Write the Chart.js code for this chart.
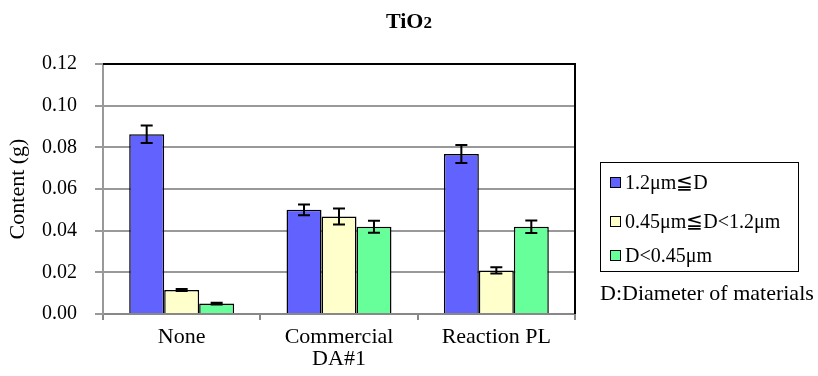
<!DOCTYPE html>
<html>
<head>
<meta charset="utf-8">
<script src="https://cdn.jsdelivr.net/npm/chart.js@4"></script>
<style>
  body { margin: 0; background: #fff; }
  #wrap { position: relative; width: 818px; height: 376px; font-family: "Liberation Serif", "DejaVu Serif", serif; overflow: hidden; }
  #title { position: absolute; left: 0; width: 818px; top: 7px; line-height: 28px; text-align: center; font-weight: bold; font-size: 22px; color: #000; }
  #title span { font-size: 17px; }
  #legendBox { position: absolute; left: 600px; top: 162px; width: 199px; height: 110px; border: 1.5px solid #000; box-sizing: border-box; }
  .item { position: absolute; left: 9px; font-size: 20px; line-height: 20px; color: #000; white-space: nowrap; }
  .sw { display: inline-block; width: 9px; height: 9px; border: 1px solid #000; margin-right: 4px; vertical-align: 1px; }
  #note { position: absolute; left: 600px; top: 281px; font-size: 22px; line-height: 24px; color: #000; white-space: nowrap; }
</style>
</head>
<body>
<div id="wrap">
  <canvas id="myChart" width="818" height="376"></canvas>
  <div id="title">TiO<span>2</span></div>
  <div id="legendBox"></div>
  <div id="note">D:Diameter of materials</div>
</div>
<script>
//categories and series
var categories = ['None', ['Commercial', 'DA#1'], 'Reaction PL'];
var seriesNames = ['1.2\u03bcm\u2266D', '0.45\u03bcm\u2266D<1.2\u03bcm', 'D<0.45\u03bcm'];
var seriesColors = ['#6262FF', '#FFFFCC', '#66FF99'];

//values (g)
var large = [0.0863, 0.0500, 0.0768];
var middle = [0.0115, 0.0468, 0.0209];
var small = [0.0050, 0.0419, 0.0419];

//error bar half widths
var largeErr = [0.0042, 0.0026, 0.0043];
var middleErr = [0.0005, 0.0038, 0.0015];
var smallErr = [0.0004, 0.0029, 0.0030];

var values = [large, middle, small];
var errors = [largeErr, middleErr, smallErr];

//build the html legend from the series arrays
var legendBox = document.getElementById('legendBox');
var legendTops = [9, 48, 82];
for (var i = 0; i < seriesNames.length; i++) {
  var div = document.createElement('div');
  div.className = 'item';
  div.style.top = legendTops[i] + 'px';
  div.innerHTML = "<span class='sw' style='background:" + seriesColors[i] + "'></span>";
  div.appendChild(document.createTextNode(seriesNames[i]));
  legendBox.appendChild(div);
}

//draws error bars and the black frame on top / right
var extras = {
  id: 'extras',
  afterDatasetsDraw: function(chart) {
    var ctx = chart.ctx;
    var yScale = chart.scales.y;
    ctx.save();
    ctx.strokeStyle = '#000';
    ctx.lineWidth = 2;
    for (var d = 0; d < chart.data.datasets.length; d++) {
      var meta = chart.getDatasetMeta(d);
      for (var j = 0; j < meta.data.length; j++) {
        var bar = meta.data[j];
        var v = values[d][j];
        var e = errors[d][j];
        var yTop = yScale.getPixelForValue(v + e);
        var yBot = yScale.getPixelForValue(v - e);
        var x = bar.x;
        ctx.beginPath();
        ctx.moveTo(x, yTop); ctx.lineTo(x, yBot);
        ctx.moveTo(x - 6, yTop); ctx.lineTo(x + 6, yTop);
        ctx.moveTo(x - 6, yBot); ctx.lineTo(x + 6, yBot);
        ctx.stroke();
      }
    }
    var a = chart.chartArea;
    ctx.lineWidth = 2;
    ctx.beginPath();
    ctx.moveTo(a.left, a.top);
    ctx.lineTo(a.right, a.top);
    ctx.lineTo(a.right, a.bottom);
    ctx.stroke();
    ctx.restore();
  }
};

var datasets = [];
for (var k = 0; k < values.length; k++) {
  datasets.push({
    label: seriesNames[k],
    data: values[k],
    backgroundColor: seriesColors[k],
    borderColor: '#000',
    borderWidth: 1.5,
    categoryPercentage: 0.667,
    barPercentage: 1.0
  });
}

var fontFam = '"Liberation Serif", "DejaVu Serif", serif';

var myChart = new Chart(document.getElementById('myChart'), {
  type: 'bar',
  data: { labels: categories, datasets: datasets },
  plugins: [extras],
  options: {
    responsive: false,
    animation: false,
    layout: { padding: { left: 0, right: 243, top: 64, bottom: 0 } },
    plugins: {
      legend: { display: false },
      title: { display: false },
      tooltip: { enabled: false }
    },
    scales: {
      x: {
        afterFit: function(scale) { scale.height = 62; },
        grid: { offset: true, drawOnChartArea: false, drawTicks: true, tickLength: 6, color: '#888', lineWidth: 2 },
        border: { color: '#888', width: 2 },
        ticks: { color: '#000', padding: 6, font: { family: fontFam, size: 22, lineHeight: 1.0 } }
      },
      y: {
        min: 0,
        max: 0.12,
        afterFit: function(scale) { scale.width = 103; },
        border: { color: '#999', width: 2 },
        grid: {
          color: '#999',
          lineWidth: 2,
          tickLength: 8
        },
        title: { display: true, text: 'Content (g)', color: '#000', padding: { top: 5, bottom: 0 }, font: { family: fontFam, size: 22 } },
        ticks: {
          stepSize: 0.01,
          color: '#000',
          padding: 18,
          font: { family: fontFam, size: 20 },
          callback: function(value) {
            var n = Math.round(value * 100);
            if (n % 2 != 0) { return ''; }
            return (n / 100).toFixed(2);
          }
        }
      }
    }
  }
});
</script>
</body>
</html>
